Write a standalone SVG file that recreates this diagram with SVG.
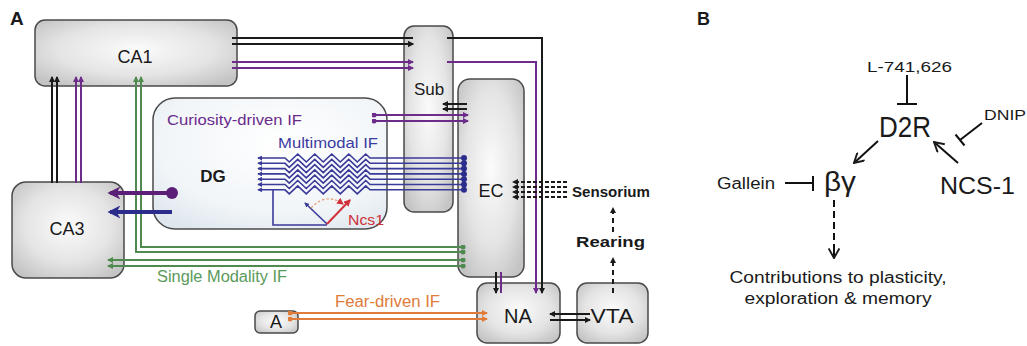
<svg xmlns="http://www.w3.org/2000/svg" width="1027" height="346" viewBox="0 0 1027 346">
<style>
.box{stroke:#4a4a4a;stroke-width:1.5;fill:url(#gbox)}
.t{font-family:"Liberation Sans",Arial,sans-serif;fill:#1a1a1a}
.b{font-weight:bold}
.k{stroke:#1a1a1a;stroke-width:2;fill:none}
.p{stroke:#6e2c8a;stroke-width:2;fill:none}
.bl{stroke:#3a3a99;stroke-width:1.6;fill:none}
.g{stroke:#4f8a4f;stroke-width:2;fill:none}
.o{stroke:#e07b39;stroke-width:2;fill:none}
.kb{stroke:#111;stroke-width:2;fill:none}
</style>
<defs>
<radialGradient id="gbox" cx="50%" cy="45%" r="65%">
<stop offset="0" stop-color="#fbfbfb"/>
<stop offset="0.6" stop-color="#e4e4e4"/>
<stop offset="1" stop-color="#c4c4c4"/>
</radialGradient>
<radialGradient id="gdg" cx="55%" cy="35%" r="75%">
<stop offset="0" stop-color="#ffffff"/>
<stop offset="0.7" stop-color="#f1f5f8"/>
<stop offset="1" stop-color="#dfe7ee"/>
</radialGradient>
<marker id="ak" viewBox="0 0 6 6" refX="5" refY="3" markerWidth="6" markerHeight="6" orient="auto" markerUnits="userSpaceOnUse"><path d="M0,0L6,3L0,6z" fill="#1a1a1a"/></marker>
<marker id="ap" viewBox="0 0 6 6" refX="5" refY="3" markerWidth="6" markerHeight="6" orient="auto" markerUnits="userSpaceOnUse"><path d="M0,0L6,3L0,6z" fill="#6e2c8a"/></marker>
<marker id="ab" viewBox="0 0 6 6" refX="5" refY="3" markerWidth="5" markerHeight="5" orient="auto" markerUnits="userSpaceOnUse"><path d="M0,0L6,3L0,6z" fill="#3a3a99"/></marker>
<marker id="ag" viewBox="0 0 6 6" refX="5" refY="3" markerWidth="6" markerHeight="6" orient="auto" markerUnits="userSpaceOnUse"><path d="M0,0L6,3L0,6z" fill="#4f8a4f"/></marker>
<marker id="ao" viewBox="0 0 6 6" refX="5" refY="3" markerWidth="6" markerHeight="6" orient="auto" markerUnits="userSpaceOnUse"><path d="M0,0L6,3L0,6z" fill="#e07b39"/></marker>
<marker id="ar" viewBox="0 0 6 6" refX="5" refY="3" markerWidth="7" markerHeight="7" orient="auto" markerUnits="userSpaceOnUse"><path d="M0,0L6,3L0,6z" fill="#d0303a"/></marker>
<marker id="aP" viewBox="0 0 10 10" refX="8" refY="5" markerWidth="13" markerHeight="13" orient="auto" markerUnits="userSpaceOnUse"><path d="M0,0L10,5L0,10L3,5z" fill="#5b1f78"/></marker>
<marker id="aB" viewBox="0 0 10 10" refX="8" refY="5" markerWidth="13" markerHeight="13" orient="auto" markerUnits="userSpaceOnUse"><path d="M0,0L10,5L0,10L3,5z" fill="#2c2c8c"/></marker>
<marker id="dp" viewBox="0 0 6 6" refX="3" refY="3" markerWidth="5" markerHeight="5" markerUnits="userSpaceOnUse"><circle cx="3" cy="3" r="3" fill="#6e2c8a"/></marker>
<marker id="db" viewBox="0 0 6 6" refX="3" refY="3" markerWidth="6" markerHeight="6" markerUnits="userSpaceOnUse"><circle cx="3" cy="3" r="3" fill="#2c2c8c"/></marker>
<marker id="dg" viewBox="0 0 6 6" refX="3" refY="3" markerWidth="5" markerHeight="5" markerUnits="userSpaceOnUse"><circle cx="3" cy="3" r="3" fill="#4f8a4f"/></marker>
<marker id="do" viewBox="0 0 6 6" refX="3" refY="3" markerWidth="5" markerHeight="5" markerUnits="userSpaceOnUse"><circle cx="3" cy="3" r="3" fill="#e07b39"/></marker>
<marker id="dP" viewBox="0 0 6 6" refX="3" refY="3" markerWidth="12" markerHeight="12" markerUnits="userSpaceOnUse"><circle cx="3" cy="3" r="3" fill="#5b1f78"/></marker>
<marker id="chev" viewBox="0 0 10 10" refX="9" refY="5" markerWidth="12" markerHeight="12" orient="auto" markerUnits="userSpaceOnUse"><path d="M1,0.5L9,5L1,9.5" fill="none" stroke="#1a1a1a" stroke-width="1.6"/></marker>
</defs>
<rect width="1027" height="346" fill="#ffffff"/>

<text class="t b" x="10" y="25" font-size="19">A</text>
<text class="t b" x="697" y="25" font-size="18">B</text>

<g id="DG"><rect x="153" y="98" width="234" height="131" rx="22" fill="url(#gdg)" stroke="#4a4a4a" stroke-width="1.5"/>
<text class="t b" x="213" y="182" font-size="17" text-anchor="middle">DG</text>
<text class="t" x="167" y="125" font-size="15" fill="#6a2a8c" style="fill:#6a2a8c" textLength="135" lengthAdjust="spacingAndGlyphs">Curiosity-driven IF</text>
<text class="t" x="278" y="148" font-size="15" style="fill:#3b3ba0" textLength="100" lengthAdjust="spacingAndGlyphs">Multimodal IF</text>
<text class="t" x="348" y="225" font-size="14" style="fill:#d0303a" textLength="36" lengthAdjust="spacingAndGlyphs">Ncs1</text>
</g>
<g id="CA1"><rect class="box" x="35" y="20" width="202" height="66" rx="10"/><text class="t" x="135" y="63" font-size="18" text-anchor="middle">CA1</text></g>
<g id="Sub"><rect class="box" x="404" y="26" width="49" height="186" rx="10"/><text class="t" x="429" y="95" font-size="17" text-anchor="middle">Sub</text></g>
<g id="EC"><rect class="box" x="458" y="79" width="66" height="198" rx="12"/><text class="t" x="491" y="197" font-size="18" text-anchor="middle">EC</text></g>
<g id="CA3"><rect class="box" x="12" y="182" width="112" height="96" rx="14"/><text class="t" x="67" y="235" font-size="18" text-anchor="middle">CA3</text></g>
<g id="Amy"><rect class="box" x="255" y="311" width="43" height="22" rx="5"/><text class="t" x="276" y="328" font-size="18" text-anchor="middle">A</text></g>
<g id="NA"><rect class="box" x="477" y="283" width="83" height="60" rx="10"/><text class="t" x="518" y="323" font-size="20" text-anchor="middle">NA</text></g>
<g id="VTA"><rect class="box" x="577" y="283" width="71" height="60" rx="10"/><text class="t" x="612" y="323" font-size="20" text-anchor="middle" textLength="43" lengthAdjust="spacingAndGlyphs">VTA</text></g>
<g id="Sensorium"><text class="t b" x="572" y="197" font-size="15" textLength="78" lengthAdjust="spacingAndGlyphs">Sensorium</text></g>
<g id="Rearing"><text class="t b" x="576" y="247" font-size="15" textLength="69" lengthAdjust="spacingAndGlyphs">Rearing</text></g>
<text class="t" x="157" y="282" font-size="16" style="fill:#5a9a5a" textLength="130" lengthAdjust="spacingAndGlyphs">Single Modality IF</text>
<text class="t" x="335" y="307" font-size="16" style="fill:#e07b39" textLength="105" lengthAdjust="spacingAndGlyphs">Fear-driven IF</text>

<g id="connectors">
<path class="k" d="M232,38H413M232,44H413" marker-end="url(#ak)"/>
<path class="k" d="M232,44H413" marker-end="url(#ak)"/>
<path class="p" d="M232,62H413" marker-end="url(#ap)"/>
<path class="p" d="M232,68H413" marker-end="url(#ap)"/>
<path class="k" d="M447,38H542V293" marker-end="url(#ak)"/>
<path class="p" d="M447,62H536V293" marker-end="url(#ap)"/>
<path class="k" d="M52,183V77" marker-end="url(#ak)"/>
<path class="k" d="M57,183V77" marker-end="url(#ak)"/>
<path class="p" d="M76,183V77" marker-end="url(#ap)"/>
<path class="p" d="M81,183V77" marker-end="url(#ap)"/>
<path class="g" d="M463,252H136V77" marker-start="url(#dg)" marker-end="url(#ag)"/>
<path class="g" d="M463,247H141V77" marker-start="url(#dg)" marker-end="url(#ag)"/>
<path class="g" d="M463,260H108" marker-start="url(#dg)" marker-end="url(#ag)"/>
<path class="g" d="M463,266H108" marker-start="url(#dg)" marker-end="url(#ag)"/>
<path d="M172,193H110" stroke="#5b1f78" stroke-width="4" fill="none" marker-start="url(#dP)" marker-end="url(#aP)"/>
<path d="M172,212H110" stroke="#2c2c8c" stroke-width="4" fill="none" marker-end="url(#aB)"/>
<path class="p" d="M374,115H468" marker-start="url(#dp)" marker-end="url(#ap)"/>
<path class="p" d="M374,121H468" marker-start="url(#dp)" marker-end="url(#ap)"/>
<path class="k" d="M467,104H443" stroke-width="1.6" marker-end="url(#ak)"/>
<path class="k" d="M467,109H443" stroke-width="1.6" marker-end="url(#ak)"/>
<path class="bl" d="M464,158H370l-4.25,-4l-8.5,8l-8.5,-8l-8.5,8l-8.5,-8l-8.5,8l-8.5,-8l-8.5,8l-8.5,-8l-8.5,8l-4.25,-4H258" marker-start="url(#db)" marker-end="url(#ab)"/>
<path class="bl" d="M464,163.3H370l-4.25,-4l-8.5,8l-8.5,-8l-8.5,8l-8.5,-8l-8.5,8l-8.5,-8l-8.5,8l-8.5,-8l-8.5,8l-4.25,-4H258" marker-start="url(#db)" marker-end="url(#ab)"/>
<path class="bl" d="M464,168.6H370l-4.25,-4l-8.5,8l-8.5,-8l-8.5,8l-8.5,-8l-8.5,8l-8.5,-8l-8.5,8l-8.5,-8l-8.5,8l-4.25,-4H258" marker-start="url(#db)" marker-end="url(#ab)"/>
<path class="bl" d="M464,173.9H370l-4.25,-4l-8.5,8l-8.5,-8l-8.5,8l-8.5,-8l-8.5,8l-8.5,-8l-8.5,8l-8.5,-8l-8.5,8l-4.25,-4H258" marker-start="url(#db)" marker-end="url(#ab)"/>
<path class="bl" d="M464,179.2H370l-4.25,-4l-8.5,8l-8.5,-8l-8.5,8l-8.5,-8l-8.5,8l-8.5,-8l-8.5,8l-8.5,-8l-8.5,8l-4.25,-4H258" marker-start="url(#db)" marker-end="url(#ab)"/>
<path class="bl" d="M464,184.5H370l-4.25,-4l-8.5,8l-8.5,-8l-8.5,8l-8.5,-8l-8.5,8l-8.5,-8l-8.5,8l-8.5,-8l-8.5,8l-4.25,-4H258" marker-start="url(#db)" marker-end="url(#ab)"/>
<path class="bl" d="M464,189.8H370l-4.25,-4l-8.5,8l-8.5,-8l-8.5,8l-8.5,-8l-8.5,8l-8.5,-8l-8.5,8l-8.5,-8l-8.5,8l-4.25,-4H258" marker-start="url(#db)" marker-end="url(#ab)"/>
<path class="bl" d="M273,190V225H327"/>
<path class="bl" d="M327,224L305,203" marker-end="url(#ab)"/>
<path d="M327,224L350,200" stroke="#d0303a" stroke-width="2" fill="none" marker-end="url(#ar)"/>
<path d="M311,208Q326,192 343,204" stroke="#e89a70" stroke-width="1.2" stroke-dasharray="2.5,2" fill="none" marker-end="url(#ar)"/>
<path class="o" d="M290,313H487" marker-start="url(#do)" marker-end="url(#ao)"/>
<path class="o" d="M290,319H487" marker-start="url(#do)" marker-end="url(#ao)"/>
<path class="k" d="M496,272V293" marker-end="url(#ak)"/>
<path class="p" d="M501,272V293"/>
<path class="k" d="M590,314H550" marker-end="url(#ak)"/>
<path class="k" d="M550,320H590" marker-end="url(#ak)"/>
<path class="k" d="M613,293V258" stroke-dasharray="5,4" marker-end="url(#ak)"/>
<path class="k" d="M613,232V208" stroke-dasharray="5,4" marker-end="url(#ak)"/>
<path class="k" d="M567,182H513" stroke-width="1.3" stroke-dasharray="4,2" marker-end="url(#ak)"/>
<path class="k" d="M567,187H513" stroke-width="1.3" stroke-dasharray="4,2" marker-end="url(#ak)"/>
<path class="k" d="M567,192H513" stroke-width="1.3" stroke-dasharray="4,2" marker-end="url(#ak)"/>
<path class="k" d="M567,197H513" stroke-width="1.3" stroke-dasharray="4,2" marker-end="url(#ak)"/>
</g>

<g id="panelB">
<g id="L741"><text class="t" x="867" y="72" font-size="14" textLength="85" lengthAdjust="spacingAndGlyphs">L-741,626</text></g>
<g id="D2R"><text class="t" x="879" y="137" font-size="30" textLength="52" lengthAdjust="spacingAndGlyphs">D2R</text></g>
<g id="DNIP"><text class="t" x="984" y="120" font-size="15" textLength="42" lengthAdjust="spacingAndGlyphs">DNIP</text></g>
<g id="Gallein"><text class="t" x="717" y="189" font-size="16" textLength="58" lengthAdjust="spacingAndGlyphs">Gallein</text></g>
<g id="bg"><text class="t" x="824" y="191" font-size="27" textLength="32" lengthAdjust="spacingAndGlyphs">βγ</text></g>
<g id="NCS1"><text class="t" x="940" y="194" font-size="24" textLength="75" lengthAdjust="spacingAndGlyphs">NCS-1</text></g>
<g id="contrib"><text class="t" x="838" y="283" font-size="16" text-anchor="middle" textLength="217" lengthAdjust="spacingAndGlyphs">Contributions to plasticity,</text>
<text class="t" x="838" y="304" font-size="16" text-anchor="middle" textLength="187" lengthAdjust="spacingAndGlyphs">exploration &amp; memory</text></g>
<g id="connectorsB">
<path class="kb" d="M907,75V104M897,104H917"/>
<path class="kb" d="M785,183H813M813,176V191"/>
<path class="kb" d="M982,123L960,140M955.5,134.5L964.5,145.5"/>
<path class="kb" d="M958,163L934,142" marker-end="url(#chev)"/>
<path class="kb" d="M878,141L854,163" marker-end="url(#chev)"/>
<path class="kb" d="M834,200V257" stroke-dasharray="7,4"/>
<path class="kb" d="M834,250V258" marker-end="url(#chev)"/>
</g>
</g>
</svg>
